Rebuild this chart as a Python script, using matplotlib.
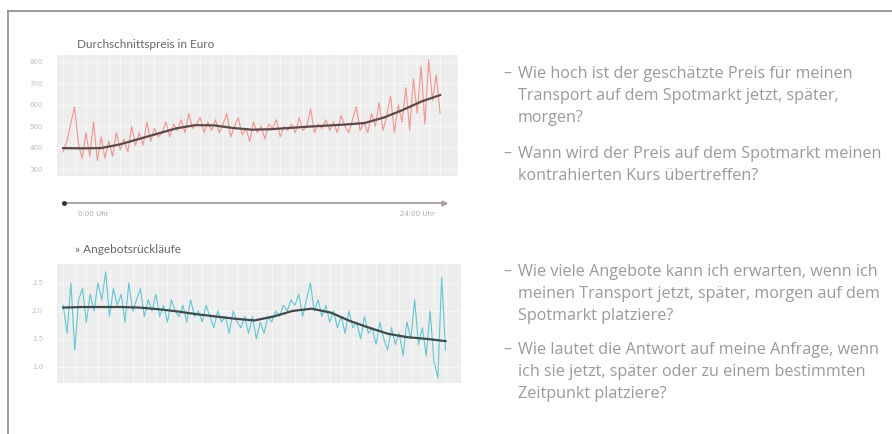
import numpy as np
import matplotlib
matplotlib.use("Agg")
import matplotlib.pyplot as plt
from matplotlib.lines import Line2D

# ---------------- data ----------------
price_title = "Durchschnittspreis in Euro"
offers_title = "» Angebotsrückläufe"
time_labels = ["0:00 Uhr", "24:00 Uhr"]

price_ticks = [300, 400, 500, 600, 700, 800]
price_raw = [380, 430, 510, 590, 420, 350, 470, 360, 520, 340,
             450, 350, 430, 360, 470, 390, 440, 380, 500, 410,
             470, 410, 520, 430, 490, 450, 470, 520, 450, 510,
             480, 530, 470, 560, 490, 510, 540, 470, 520, 480,
             530, 470, 510, 560, 450, 500, 540, 460, 490, 430,
             520, 470, 500, 440, 510, 490, 530, 450, 500, 480,
             510, 470, 540, 480, 500, 580, 470, 510, 490, 530,
             480, 520, 470, 550, 500, 470, 530, 590, 480, 520,
             470, 560, 500, 610, 480, 550, 640, 470, 600, 520,
             680, 480, 720, 560, 780, 510, 810, 620, 740, 560]
price_trend = [398, 397, 398, 415, 440, 465, 490, 505, 504, 492, 484,
               486, 492, 498, 503, 508, 515, 540, 575, 615, 645]

offer_ticks = [1.0, 1.5, 2.0, 2.5]
offer_raw = [2.1, 1.6, 2.5, 1.3, 2.2, 2.4, 1.8, 2.3, 2.0, 2.5,
             2.2, 2.7, 1.9, 2.4, 2.1, 2.3, 1.8, 2.5, 2.0, 2.2,
             2.4, 1.9, 2.2, 2.0, 2.3, 1.9, 2.1, 1.8, 2.2, 2.0,
             1.9, 2.1, 1.8, 2.2, 1.9, 2.0, 1.8, 2.1, 1.9, 1.7,
             2.0, 1.8, 1.9, 1.6, 2.0, 1.8, 1.7, 1.9, 1.6, 1.9,
             1.5, 1.8, 1.6, 1.9, 1.8, 2.0, 1.9, 2.1, 2.0, 2.2,
             2.1, 2.3, 1.9, 2.2, 2.5, 2.0, 2.2, 1.9, 2.1, 1.8,
             2.0, 1.7, 1.9, 1.6, 2.0, 1.7, 1.8, 1.5, 1.9, 1.6,
             1.7, 1.4, 1.8, 1.5, 1.3, 1.7, 1.4, 1.6, 1.2, 1.8,
             1.5, 2.2, 1.4, 1.7, 1.2, 2.0, 1.1, 0.8, 2.6, 1.3]
offer_trend = [2.06, 2.07, 2.07, 2.07, 2.06, 2.03, 1.99, 1.94, 1.90, 1.86, 1.83,
               1.90, 2.00, 2.04, 1.97, 1.82, 1.70, 1.59, 1.53, 1.50, 1.46]

questions_top = [
    "Wie hoch ist der geschätzte Preis für meinen\nTransport auf dem Spotmarkt jetzt, später,\nmorgen?",
    "Wann wird der Preis auf dem Spotmarkt meinen\nkontrahierten Kurs übertreffen?",
]
questions_bottom = [
    "Wie viele Angebote kann ich erwarten, wenn ich\nmeinen Transport jetzt, später, morgen auf dem\nSpotmarkt platziere?",
    "Wie lautet die Antwort auf meine Anfrage, wenn\nich sie jetzt, später oder zu einem bestimmten\nZeitpunkt platziere?",
]

# ---------------- figure ----------------
W, H = 892, 434
fig = plt.figure(figsize=(W / 100, H / 100), dpi=100)
fig.patch.set_facecolor("white")

def fx(px):
    return px / W

def fy(py):
    return 1 - py / H

# frame lines
fig.add_artist(Line2D([fx(8), fx(8)], [fy(11), 0], color="#8a8a8a", lw=1.2))
fig.add_artist(Line2D([fx(8), 1], [fy(11), fy(11)], color="#8a8a8a", lw=1.2))

BG = "#ededed"
TICKC = "#bdbdbd"

def style_ax(ax, ticks, fmt):
    ax.set_facecolor(BG)
    for s in ax.spines.values():
        s.set_visible(False)
    ax.set_yticks(ticks)
    ax.set_yticklabels([fmt(t) for t in ticks], fontsize=5, color=TICKC)
    ax.tick_params(axis="y", length=0, pad=10)
    ax.set_xticks(np.arange(0, 100, 3))
    ax.tick_params(axis="x", length=0, labelbottom=False)
    ax.grid(True, color="white", lw=0.5, alpha=0.8)
    ax.set_axisbelow(True)

# top chart
ax1 = fig.add_axes([fx(57), fy(176), fx(458) - fx(57), fy(55) - fy(176)])
n = len(price_raw)
xi = np.arange(n)
xt = np.linspace(0, n - 1, len(price_trend))
ax1.plot(xi, price_raw, color="#f07f76", lw=0.8, alpha=0.8)
ax1.plot(xt, price_trend, color="#5b4848", lw=1.6)
ax1.set_xlim(-1.6, 103.7)
ax1.set_ylim(268, 832)
style_ax(ax1, price_ticks, lambda t: f"{t:d}")

# bottom chart
ax2 = fig.add_axes([fx(57), fy(383), fx(461) - fx(57), fy(264) - fy(383)])
n2 = len(offer_raw)
xi2 = np.arange(n2)
xt2 = np.linspace(0, n2 - 1, len(offer_trend))
ax2.plot(xi2, offer_raw, color="#3fbccc", lw=0.8, alpha=0.8)
ax2.plot(xt2, offer_trend, color="#3d4a4c", lw=1.6)
ax2.set_xlim(-1.6, 103.0)
ax2.set_ylim(0.71, 2.84)
style_ax(ax2, offer_ticks, lambda t: f"{t:.1f}")

# titles
fig.text(fx(77), fy(44), price_title, fontsize=8.5, color="#666666",
         va="center", ha="left", family="Lato")
fig.text(fx(75), fy(250), offers_title, fontsize=8.5, color="#666666",
         va="center", ha="left", family="Lato")

# time arrow
fig.add_artist(Line2D([fx(63), fx(446)], [fy(203), fy(203)], color="#a89c9c", lw=1.3))
fig.add_artist(Line2D([fx(64)], [fy(203)], marker="o", ms=2.5, color="#333333", lw=0))
fig.add_artist(Line2D([fx(444)], [fy(203)], marker=">", ms=3.5, color="#a89c9c", lw=0))
fig.text(fx(78), fy(214), time_labels[0], fontsize=5, color="#aaaaaa", va="center", ha="left")
fig.text(fx(435), fy(214), time_labels[1], fontsize=5, color="#aaaaaa", va="center", ha="right")

# right-hand questions
TXT = "#9a9a9a"
FS = 11.6
def bullets(items, y_centers):
    for txt, y in zip(items, y_centers):
        fig.text(fx(503), fy(y), "–", fontsize=FS, color=TXT, va="center", ha="left",
                 family="Open Sans")
        for k, line in enumerate(txt.split("\n")):
            fig.text(fx(518), fy(y + 22 * k), line, fontsize=FS, color=TXT,
                     va="center", ha="left", family="Open Sans")

bullets(questions_top, [74, 154])
bullets(questions_bottom, [272, 350])

fig.savefig("out.png", dpi=100, facecolor="white")
